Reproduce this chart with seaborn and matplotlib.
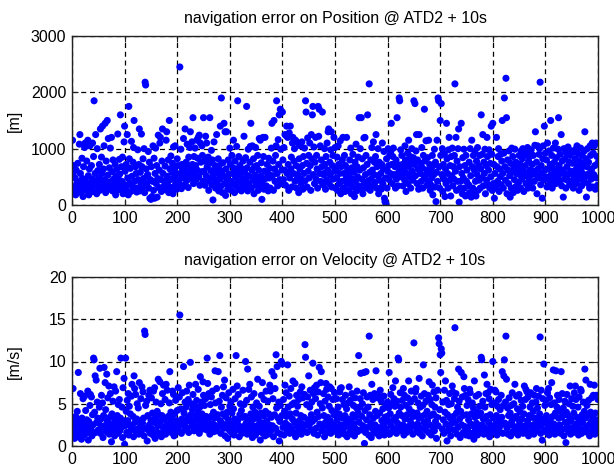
import numpy as np
import pandas as pd
import matplotlib
matplotlib.use("Agg")
import matplotlib.pyplot as plt
import seaborn as sns

# ---------------- data ----------------
pos_title = "navigation error on Position @ ATD2 + 10s"
vel_title = "navigation error on Velocity @ ATD2 + 10s"
pos_ylabel = "[m]"
vel_ylabel = "[m/s]"
x_ticks = [0, 100, 200, 300, 400, 500, 600, 700, 800, 900, 1000]
pos_yticks = [0, 1000, 2000, 3000]
vel_yticks = [0, 5, 10, 15, 20]

position_err = [
    1150, 550, 700, 250, 320, 480, 180, 620, 380, 260, 740, 410, 300, 1080, 1250, 560, 220, 350, 830, 470, 150, 680, 290, 1020, 1100,
    420, 260, 780, 330, 1150, 520, 180, 640, 1050, 380, 290, 700, 460, 1100, 240, 860, 1850, 350, 560, 1250, 430, 200, 1000, 610, 310,
    480, 720, 260, 1350, 390, 850, 560, 1400, 300, 640, 1050, 450, 1450, 220, 780, 370, 1500, 530, 1180, 280, 660, 410, 1010, 340, 1200,
    590, 250, 800, 460, 350, 330, 720, 180, 520, 640, 380, 1260, 270, 450, 810, 550, 1600, 300, 680, 420, 850, 200, 370, 1120, 1400,
    600, 280, 720, 350, 1250, 480, 180, 1750, 820, 390, 650, 240, 1130, 510, 330, 760, 1020, 1500, 420, 270, 680, 560, 230, 300, 980,
    450, 720, 1350, 250, 580, 390, 1260, 680, 310, 820, 470, 1000, 220, 2180, 2130, 640, 380, 520, 540, 950, 300, 760, 120, 450, 100,
    680, 150, 420, 1050, 260, 830, 120, 560, 1010, 380, 700, 140, 470, 1240, 310, 620, 1100, 1200, 450, 240, 780, 1350, 560, 330, 280,
    420, 690, 270, 1150, 1300, 510, 360, 800, 220, 1500, 640, 450, 870, 310, 580, 740, 200, 1030, 480, 650, 1050, 380, 560, 280, 820,
    700, 450, 320, 380, 2450, 560, 990, 290, 720, 640, 480, 1180, 350, 600, 1350, 520, 760, 430, 1080, 690, 310, 850, 560, 1020, 1300,
    640, 470, 1120, 720, 1550, 380, 860, 560, 1010, 700, 450, 1150, 620, 830, 1200, 500, 1240, 350, 1100, 760, 590, 1050, 880, 420, 1550,
    600, 780, 350, 1220, 520, 1100, 680, 430, 850, 260, 740, 1550, 480, 610, 970, 360, 800, 90, 540, 1120, 450, 700, 300, 620, 1250,
    380, 560, 820, 250, 700, 460, 1400, 330, 1900, 600, 220, 750, 510, 1450, 380, 1300, 170, 640, 1300, 450, 280, 800, 550, 350, 1010,
    720, 420, 260, 880, 560, 380, 1150, 650, 220, 780, 490, 340, 1040, 600, 1850, 410, 860, 280, 700, 530, 400, 250, 640, 450, 780,
    360, 1220, 580, 300, 840, 470, 1750, 660, 250, 990, 520, 380, 760, 1040, 1450, 300, 620, 1050, 450, 820, 200, 680, 530, 1020, 360,
    700, 440, 880, 260, 620, 1180, 360, 1150, 510, 750, 100, 420, 1200, 860, 280, 600, 1200, 470, 340, 330, 720, 560, 250, 830, 480,
    650, 300, 520, 1010, 1450, 520, 780, 260, 1500, 640, 420, 880, 1050, 1850, 560, 340, 1160, 720, 1600, 450, 1700, 990, 380, 620, 1650,
    800, 450, 1020, 620, 1250, 350, 1230, 1400, 560, 1200, 720, 260, 1280, 480, 1400, 640, 850, 320, 1100, 1200, 560, 780, 1000, 420, 1150,
    700, 300, 460, 540, 1100, 220, 820, 640, 1050, 460, 380, 1120, 700, 280, 860, 560, 1010, 430, 1850, 1650, 740, 320, 1190, 600, 880,
    480, 1100, 700, 260, 1250, 820, 1600, 1750, 540, 1030, 380, 760, 1200, 460, 880, 640, 300, 1750, 1220, 1700, 560, 1050, 420, 800, 680,
    1650, 360, 540, 560, 1000, 720, 280, 860, 450, 1100, 620, 1300, 1350, 380, 760, 540, 980, 1300, 320, 700, 880, 460, 1200, 600, 1020,
    300, 620, 480, 850, 260, 1050, 720, 380, 560, 1140, 200, 680, 420, 800, 1200, 300, 560, 880, 240, 700, 460, 1200, 380, 620, 420,
    260, 540, 800, 380, 1010, 200, 660, 460, 900, 320, 580, 150, 760, 430, 1080, 250, 680, 500, 850, 340, 1550, 620, 1000, 280, 1550,
    460, 820, 200, 660, 1190, 380, 1200, 540, 880, 300, 720, 1600, 430, 350, 2150, 580, 260, 800, 460, 1020, 620, 340, 1120, 540, 760,
    400, 860, 1250, 300, 680, 520, 1000, 200, 760, 440, 300, 560, 280, 720, 1100, 380, 640, 950, 120, 60, 480, 20, 820, 300, 600,
    1000, 700, 450, 880, 560, 950, 1450, 720, 380, 860, 1010, 540, 520, 680, 300, 800, 460, 1550, 720, 340, 580, 1900, 1850, 650, 980,
    500, 880, 720, 340, 560, 620, 450, 1050, 800, 240, 700, 560, 920, 380, 1150, 680, 500, 860, 300, 760, 1000, 600, 440, 840, 1850,
    720, 1800, 520, 960, 1250, 380, 800, 640, 280, 1250, 300, 560, 740, 420, 1020, 660, 300, 880, 520, 1700, 780, 460, 1140, 620, 350,
    840, 560, 1150, 400, 720, 260, 360, 620, 480, 880, 180, 700, 540, 990, 320, 760, 60, 580, 1150, 420, 1900, 1850, 680, 300, 1500,
    880, 1800, 540, 1000, 240, 720, 460, 900, 150, 640, 380, 1450, 820, 560, 300, 980, 1200, 440, 700, 160, 860, 520, 1010, 340, 680,
    460, 880, 2150, 600, 1200, 260, 780, 420, 1000, 1350, 50, 680, 300, 420, 1450, 560, 200, 840, 480, 990, 300, 700, 160, 880, 420,
    620, 180, 340, 360, 760, 220, 1000, 520, 140, 1150, 680, 300, 880, 200, 620, 950, 420, 160, 780, 540, 1020, 260, 700, 440, 880,
    300, 640, 1600, 480, 900, 1250, 340, 760, 560, 990, 200, 700, 440, 1200, 860, 360, 620, 980, 300, 740, 500, 1400, 900, 260, 1450,
    380, 720, 120, 560, 340, 300, 1200, 680, 420, 860, 1000, 240, 640, 500, 900, 360, 780, 1500, 560, 300, 920, 1900, 680, 440, 2250,
    1550, 200, 800, 620, 380, 960, 520, 140, 740, 300, 1010, 580, 860, 220, 680, 450, 990, 320, 760, 560, 340, 260, 640, 400, 880,
    540, 720, 300, 960, 460, 820, 1000, 620, 240, 880, 520, 700, 380, 940, 560, 1020, 300, 780, 460, 860, 620, 400, 980, 540, 720,
    300, 880, 600, 420, 1060, 1300, 540, 760, 200, 1050, 640, 480, 900, 1000, 2180, 360, 700, 560, 120, 820, 1050, 440, 1400, 620, 920,
    500, 800, 320, 1100, 640, 460, 960, 380, 720, 1500, 540, 880, 300, 660, 1010, 440, 760, 560, 1100, 380, 840, 620, 480, 990, 1550,
    700, 420, 900, 560, 1250, 340, 780, 620, 140, 1000, 460, 820, 560, 300, 920, 680, 440, 1030, 540, 760, 360, 880, 600, 420, 960,
    560, 740, 300, 940, 480, 820, 620, 990, 380, 1050, 700, 540, 900, 260, 780, 460, 1010, 640, 340, 880, 560, 720, 420, 960, 1300,
    500, 820, 140, 680, 1000, 380, 760, 560, 300, 1050, 880, 460, 640, 1100, 320, 920, 540, 1050, 700, 280, 1100, 480, 860, 350, 750,
]

velocity_err = [
    2.5, 6.8, 1.8, 3.2, 0.9, 2.2, 3.5, 1.4, 2.8, 4.1, 1.1, 8.7, 2.4, 3.0, 1.6, 6.2, 2.0, 0.8, 3.3, 1.9, 5.6, 2.6, 1.3, 5.9, 2.1,
    4.2, 1.5, 3.1, 2.3, 6.5, 0.7, 2.9, 1.8, 4.8, 6.1, 2.0, 5.8, 1.2, 3.7, 2.5, 10.4, 10.2, 4.0, 8.3, 1.6, 7.8, 2.8, 5.2, 3.3, 1.9,
    2.7, 4.6, 9.2, 1.5, 3.2, 6.0, 2.2, 5.1, 1.0, 3.6, 9.3, 2.4, 7.5, 4.3, 1.7, 8.5, 3.0, 5.7, 2.1, 7.1, 1.4, 3.4, 6.2, 2.6, 0.5,
    3.8, 1.9, 5.3, 2.5, 7.0, 1.2, 3.1, 6.5, 2.0, 8.8, 3.6, 1.5, 4.9, 2.7, 5.5, 1.8, 3.3, 10.4, 2.2, 4.6, 1.0, 6.9, 3.0, 8.0, 0.2,
    2.4, 10.4, 4.1, 1.6, 5.4, 3.0, 6.2, 1.3, 4.7, 2.5, 3.8, 1.9, 5.9, 7.3, 2.2, 3.5, 1.1, 8.3, 6.8, 2.8, 6.1, 1.7, 3.2, 5.0, 2.0,
    4.5, 1.4, 7.5, 3.0, 2.3, 5.6, 1.8, 7.0, 2.7, 6.4, 3.3, 1.2, 13.6, 13.2, 4.8, 2.1, 5.3, 0.6, 3.6, 1.9, 6.0, 2.5, 6.6, 1.5, 3.1,
    5.7, 2.0, 3.9, 1.3, 6.5, 2.8, 6.9, 0.9, 3.4, 5.2, 1.7, 4.1, 2.4, 7.9, 3.7, 1.5, 7.6, 2.9, 5.0, 1.1, 3.6, 6.2, 2.2, 7.2, 1.8,
    3.2, 5.5, 1.4, 7.3, 2.6, 6.6, 1.9, 3.5, 2.1, 5.1, 8.8, 2.8, 4.0, 1.6, 3.3, 6.5, 2.4, 6.1, 1.2, 3.8, 2.0, 5.4, 1.7, 3.0, 4.2,
    2.3, 6.9, 1.8, 5.8, 15.5, 2.7, 4.4, 1.5, 3.2, 6.3, 2.5, 9.4, 3.9, 1.9, 5.2, 2.8, 4.6, 6.5, 2.1, 3.4, 5.5, 1.6, 7.2, 3.0, 9.9,
    3.7, 5.0, 2.4, 4.3, 6.1, 3.0, 1.8, 4.8, 2.9, 7.3, 3.6, 5.4, 2.2, 4.1, 6.7, 3.2, 1.5, 4.6, 8.2, 2.6, 5.2, 3.8, 2.0, 7.6, 6.0,
    3.1, 4.8, 2.5, 5.6, 3.5, 1.9, 10.4, 7.4, 2.8, 6.2, 3.3, 1.4, 4.9, 2.2, 5.8, 3.6, 6.5, 2.6, 4.0, 1.7, 3.3, 8.9, 5.1, 2.4, 6.8,
    1.8, 3.7, 8.8, 2.3, 5.3, 10.7, 3.0, 1.5, 4.6, 2.7, 6.0, 3.8, 7.0, 2.1, 7.8, 1.2, 3.5, 5.7, 2.5, 4.0, 0.9, 3.1, 6.3, 1.9, 4.7,
    2.6, 5.2, 1.6, 3.9, 2.2, 6.7, 4.4, 1.3, 3.2, 5.6, 2.8, 10.7, 1.9, 7.1, 3.0, 6.1, 2.4, 1.1, 3.7, 5.0, 2.0, 4.2, 1.5, 3.4, 6.6,
    2.3, 4.9, 1.8, 3.5, 10.0, 2.7, 5.4, 1.4, 9.1, 3.1, 6.7, 2.2, 7.3, 1.6, 3.8, 5.8, 2.5, 1.0, 4.6, 3.2, 6.2, 2.0, 4.0, 1.3, 3.6,
    5.1, 2.4, 7.9, 3.3, 1.7, 4.7, 2.9, 0.7, 3.9, 6.0, 2.2, 7.5, 1.5, 3.6, 5.5, 2.7, 1.2, 4.1, 6.5, 3.0, 2.0, 5.3, 1.4, 3.8, 2.5,
    7.2, 6.5, 1.8, 3.4, 8.8, 2.4, 5.6, 1.1, 8.3, 3.7, 6.8, 2.1, 10.8, 4.5, 9.4, 1.6, 3.3, 5.2, 0.6, 2.9, 4.8, 1.4, 10.0, 3.6, 9.7,
    2.2, 5.5, 1.3, 4.1, 7.2, 2.7, 6.3, 3.5, 1.8, 9.6, 4.6, 2.4, 5.9, 1.5, 3.8, 6.8, 2.1, 4.9, 3.2, 7.7, 1.6, 5.1, 2.8, 7.4, 1.1,
    3.9, 6.0, 2.3, 4.7, 1.7, 5.5, 3.0, 2.0, 6.4, 3.6, 1.4, 7.0, 2.6, 5.7, 1.9, 3.4, 6.1, 12.0, 10.5, 2.5, 4.9, 1.6, 5.8, 3.1, 8.3,
    2.4, 4.6, 6.6, 1.9, 3.7, 5.2, 2.9, 9.8, 6.2, 1.5, 6.9, 3.2, 5.6, 2.1, 7.2, 4.0, 1.3, 6.4, 3.5, 9.3, 2.6, 5.0, 7.5, 8.8, 1.8,
    4.5, 2.2, 6.2, 3.6, 1.1, 5.3, 2.8, 7.4, 6.7, 1.6, 3.4, 5.8, 2.3, 4.7, 7.0, 3.0, 1.5, 6.8, 4.2, 2.6, 5.5, 1.9, 3.7, 6.3, 2.4,
    4.0, 1.7, 5.6, 3.1, 2.2, 4.6, 1.3, 3.8, 6.4, 6.8, 2.5, 6.9, 1.8, 5.5, 3.3, 2.0, 4.9, 1.4, 3.6, 6.0, 2.7, 4.4, 1.1, 3.2, 5.1,
    2.3, 7.0, 1.6, 5.4, 3.0, 2.1, 6.2, 1.4, 3.7, 4.8, 2.6, 1.2, 5.7, 3.4, 2.0, 4.5, 6.5, 1.7, 3.9, 10.7, 2.8, 4.6, 5.6, 8.6, 1.9,
    3.5, 5.0, 2.4, 6.3, 8.7, 0.3, 4.2, 1.6, 8.8, 3.1, 5.8, 2.2, 4.6, 1.3, 13.0, 3.7, 6.0, 2.7, 1.0, 7.3, 2.1, 5.5, 3.3, 1.7, 6.2,
    2.5, 4.1, 8.9, 1.5, 3.6, 5.7, 2.2, 6.0, 1.2, 3.9, 6.6, 2.0, 5.3, 3.0, 1.6, 4.4, 2.6, 5.9, 1.3, 3.4, 2.1, 4.8, 1.8, 3.5, 5.2,
    2.9, 4.5, 8.7, 1.4, 3.8, 6.1, 2.4, 5.0, 1.7, 6.9, 3.1, 5.6, 2.0, 4.7, 7.7, 3.4, 1.5, 5.3, 2.7, 10.4, 10.2, 3.9, 2.2, 6.3, 4.6,
    1.8, 3.6, 5.4, 2.5, 6.8, 1.3, 6.0, 3.2, 2.0, 4.8, 1.6, 3.7, 5.7, 2.3, 7.7, 4.4, 1.9, 3.0, 5.2, 6.5, 2.6, 4.0, 1.4, 3.5, 12.2,
    5.6, 2.3, 6.4, 6.8, 1.7, 3.9, 2.6, 5.1, 3.3, 8.0, 1.5, 4.6, 2.1, 5.9, 3.5, 1.2, 4.8, 9.6, 2.8, 6.2, 3.7, 1.9, 5.3, 2.4, 4.1,
    3.0, 6.0, 1.6, 7.6, 2.5, 5.5, 3.6, 1.3, 4.9, 7.2, 2.2, 3.8, 6.4, 1.8, 4.6, 2.9, 5.7, 0.9, 3.4, 6.6, 2.4, 12.8, 12.1, 4.3, 10.8,
    8.7, 11.5, 11.0, 2.0, 5.2, 3.1, 1.5, 6.6, 4.0, 7.7, 2.6, 5.4, 0.6, 3.7, 1.8, 4.9, 2.3, 6.2, 3.3, 1.2, 5.0, 2.7, 7.1, 6.4, 3.5,
    1.9, 5.6, 14.0, 2.8, 6.2, 3.9, 1.4, 4.6, 2.2, 9.1, 5.3, 3.2, 1.0, 4.1, 8.7, 2.5, 5.8, 3.6, 1.6, 8.2, 6.8, 2.3, 6.0, 1.3, 3.7,
    4.8, 2.0, 5.5, 3.1, 1.2, 6.7, 6.3, 2.6, 3.8, 1.5, 5.1, 2.4, 4.5, 0.8, 7.7, 3.4, 1.9, 5.9, 2.7, 4.0, 1.3, 3.6, 6.1, 2.2, 4.7,
    1.7, 3.9, 10.5, 10.2, 2.5, 5.3, 3.2, 1.4, 8.4, 4.6, 2.1, 6.2, 3.5, 7.3, 1.8, 6.3, 2.8, 5.6, 1.1, 3.7, 6.7, 2.3, 4.9, 1.6, 10.0,
    3.3, 5.1, 1.9, 6.6, 2.6, 6.4, 3.6, 1.3, 4.7, 2.2, 5.5, 3.0, 1.7, 4.3, 2.4, 6.0, 3.4, 8.8, 1.5, 4.8, 8.3, 10.2, 2.7, 5.2, 13.0,
    7.9, 2.1, 4.5, 1.4, 3.6, 5.7, 2.5, 3.9, 1.2, 4.8, 2.9, 6.3, 1.7, 3.3, 5.0, 2.3, 7.3, 1.6, 3.5, 5.9, 2.0, 4.4, 1.3, 3.1, 6.1,
    2.6, 4.0, 1.8, 5.4, 3.2, 2.1, 4.7, 1.5, 3.8, 7.1, 2.4, 5.5, 6.7, 1.9, 6.4, 3.0, 5.8, 1.2, 3.6, 2.5, 4.6, 6.3, 1.6, 3.4, 5.1,
    2.2, 4.1, 1.4, 6.0, 3.3, 2.7, 5.2, 6.8, 1.8, 4.5, 3.1, 5.9, 2.3, 3.8, 12.9, 1.5, 6.6, 2.6, 0.7, 5.6, 3.2, 9.7, 1.9, 4.8, 2.8,
    5.4, 3.6, 1.6, 6.3, 2.4, 6.8, 1.3, 5.7, 3.0, 2.0, 4.9, 7.5, 1.7, 3.5, 9.0, 2.6, 5.1, 1.4, 3.9, 8.9, 2.2, 4.6, 6.0, 1.9, 3.3,
    5.5, 2.5, 4.1, 1.5, 8.8, 3.4, 6.2, 2.0, 4.5, 1.2, 3.7, 5.3, 2.8, 0.4, 4.0, 6.1, 2.3, 3.6, 1.7, 5.0, 2.9, 7.1, 1.4, 3.2, 5.6,
    2.1, 4.7, 1.6, 3.9, 6.3, 2.6, 7.1, 5.5, 1.8, 3.4, 2.3, 4.6, 1.3, 5.8, 3.0, 2.0, 6.7, 6.5, 1.5, 3.7, 2.7, 5.2, 1.9, 4.1, 9.1,
    3.3, 7.8, 2.2, 4.8, 1.6, 3.6, 5.4, 2.5, 1.2, 7.3, 4.0, 2.9, 5.7, 1.8, 3.5, 6.0, 2.3, 7.2, 1.4, 3.9, 2.6, 6.0, 1.9, 3.1, 5.5,
]

run_index = list(range(1, len(position_err) + 1))

df = pd.DataFrame({"run": run_index, "pos": position_err, "vel": velocity_err})

# ---------------- style ----------------
sns.set_theme(style="white")
plt.rcParams["font.family"] = ["Liberation Sans", "DejaVu Sans"]
plt.rcParams["font.size"] = 11
plt.rcParams["text.color"] = "black"
plt.rcParams["axes.labelcolor"] = "black"
plt.rcParams["xtick.color"] = "black"
plt.rcParams["ytick.color"] = "black"

fig = plt.figure(figsize=(6.14, 4.68), dpi=100)
ax1 = fig.add_axes([72 / 614, 1 - 205 / 468, 526 / 614, 169 / 468])
ax2 = fig.add_axes([72 / 614, 1 - 446 / 468, 526 / 614, 169 / 468])

panels = [
    (ax1, "pos", pos_title, pos_ylabel, pos_yticks),
    (ax2, "vel", vel_title, vel_ylabel, vel_yticks),
]

for ax, col, title, ylab, yt in panels:
    sns.scatterplot(data=df, x="run", y=col, ax=ax, color="#0000ff",
                    s=26, linewidth=0, edgecolor="none", legend=False, zorder=3)
    ax.set_xlim(0, 1000)
    ax.set_ylim(yt[0], yt[-1])
    ax.set_xticks(x_ticks)
    ax.set_yticks(yt)
    ax.set_xlabel("")
    ax.set_ylabel(ylab, fontsize=11.5, color="black")
    ax.yaxis.set_label_coords(-0.095, 0.5)
    ax.set_title(title, fontsize=11.5, pad=9, color="black")
    ax.grid(True, color="black", linestyle=(0, (4, 3)), linewidth=0.9, zorder=1)
    ax.set_axisbelow(True)
    for sp in ax.spines.values():
        sp.set_color("#222222")
        sp.set_linewidth(1.0)
        sp.set_zorder(4)
    ax.tick_params(axis="both", which="both", direction="in", length=4,
                   width=0.8, color="#222222", labelcolor="black",
                   labelsize=11.5, pad=4,
                   top=True, right=True, bottom=True, left=True)

fig.savefig("out.png", dpi=100)
